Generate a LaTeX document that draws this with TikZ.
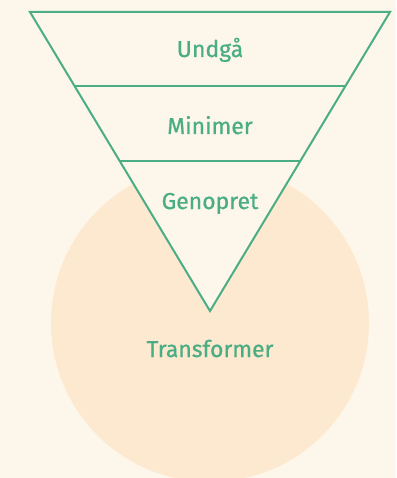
\documentclass[tikz,border=0pt]{standalone}
\usepackage{fontspec}
\setmainfont{Fira Sans}
\newfontfamily\lblfont{Fira Sans}[FakeBold=0.7]
\definecolor{bg}{HTML}{FDF7EB}
\definecolor{peach}{HTML}{FDE9D0}
\definecolor{grn}{HTML}{4AAD84}
\begin{document}
\begin{tikzpicture}[x=1pt,y=-1pt,
  lbl/.style={text=grn,font=\lblfont\fontsize{23}{27}\selectfont,anchor=base}]
\fill[bg] (0,0) rectangle (396,478);
\useasboundingbox (0,0) rectangle (396,478);
\begin{scope}
\clip (0,0) rectangle (396,478);
\fill[peach] (210,323) circle[radius=159];
\end{scope}
\coordinate (tl) at (30,12);
\coordinate (tr) at (390,12);
\coordinate (ap) at (210,311);
\filldraw[fill=bg,draw=grn,line width=2pt,line join=miter] (tl) -- (tr) -- (ap) -- cycle;
\coordinate (l1) at (74.6,86);
\coordinate (r1) at (345.4,86);
\coordinate (l2) at (119.8,161);
\coordinate (r2) at (300.2,161);
\draw[grn,line width=2pt] (l1) -- (r1);
\draw[grn,line width=2pt] (l2) -- (r2);
\node[lbl] (a) at (210,57) {Undgå};
\node[lbl] (b) at (210,134) {Minimer};
\node[lbl] (c) at (210,209) {Genopret};
\node[lbl] (d) at (210,357) {Transformer};
\end{tikzpicture}
\end{document}
